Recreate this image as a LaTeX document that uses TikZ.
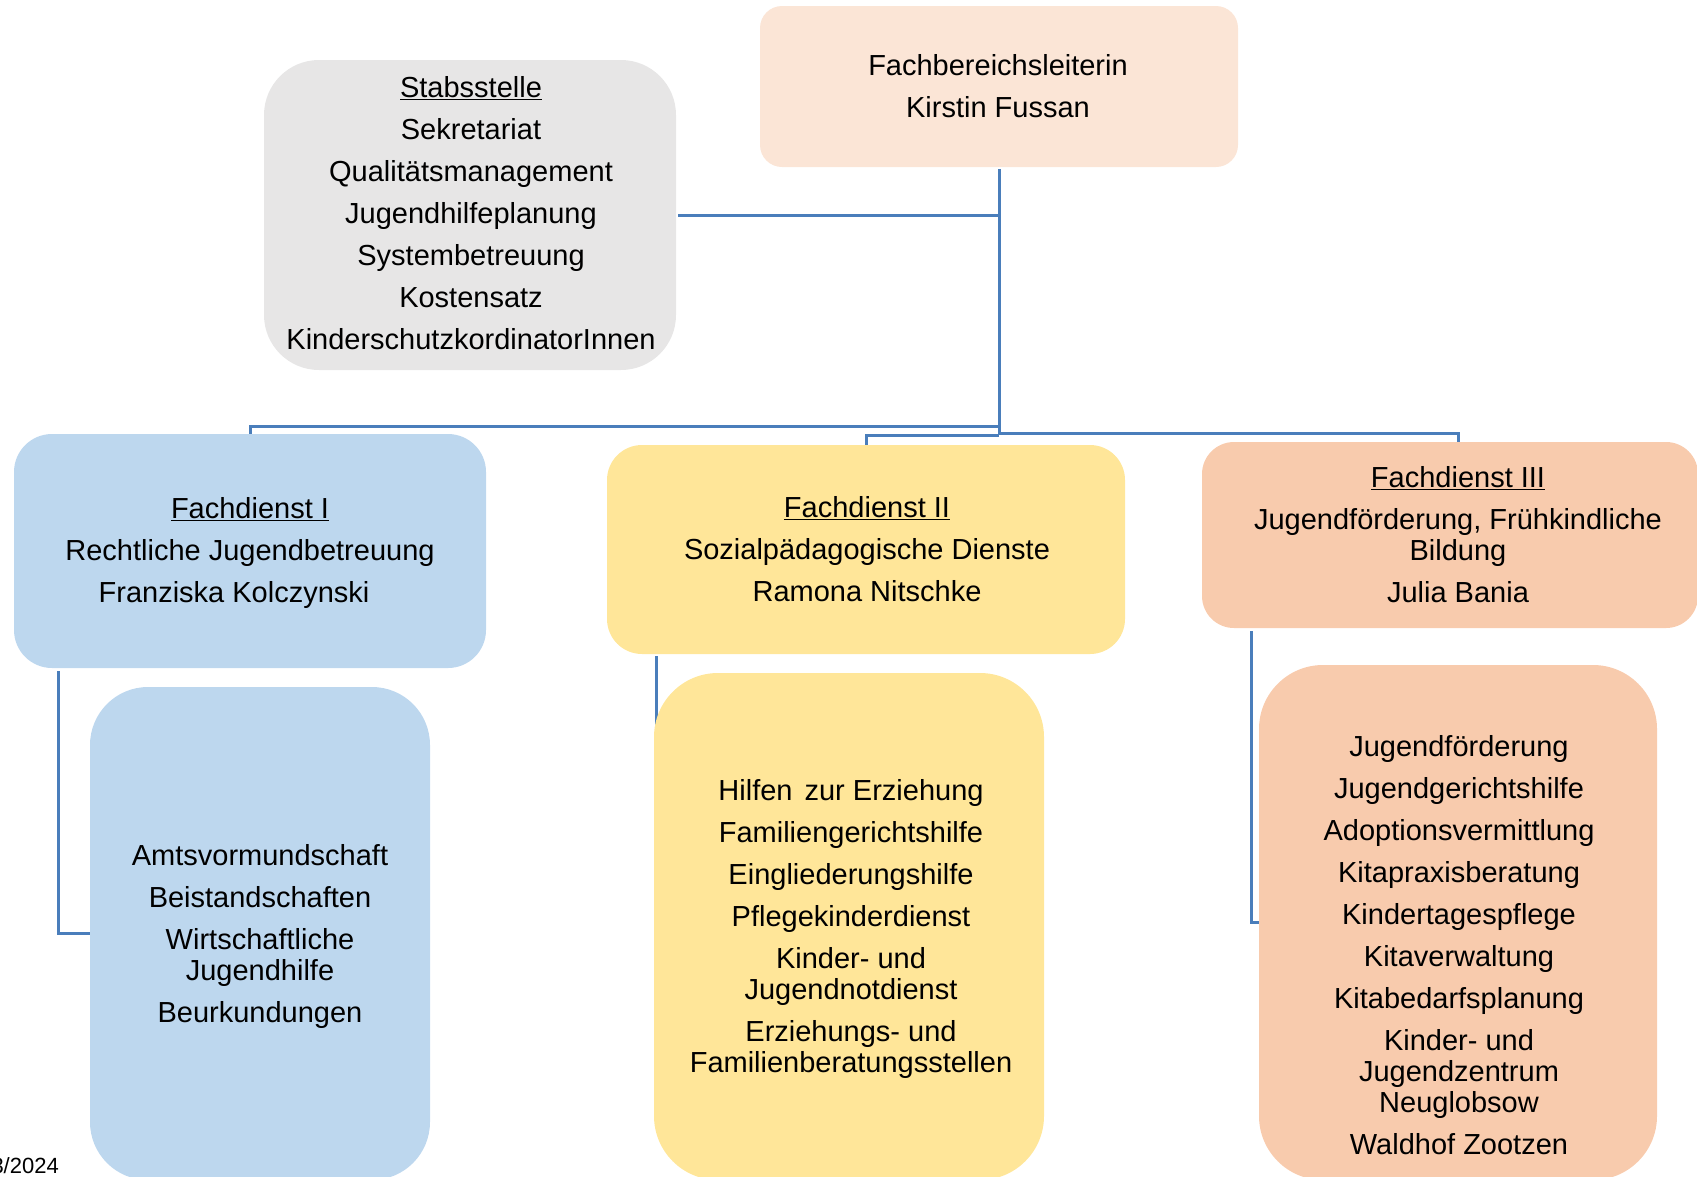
\documentclass[tikz,border=0pt]{standalone}
\usepackage{fontspec}
\setmainfont{Liberation Sans}
\definecolor{topfill}{HTML}{FBE5D6}
\definecolor{stabfill}{HTML}{E7E6E6}
\definecolor{blfill}{HTML}{BDD7EE}
\definecolor{yefill}{HTML}{FFE699}
\definecolor{orfill}{HTML}{F8CBAD}
\definecolor{lineblue}{HTML}{4A7EBB}
\tikzset{
  box/.style={rectangle, inner sep=0pt, draw=none},
  conn/.style={draw=lineblue, line width=3pt},
  txt/.style={align=center, inner sep=0pt, font=\fontsize{29}{31}\selectfont},
}
\begin{document}
\begin{tikzpicture}[x=1pt,y=-1pt]
\useasboundingbox (0,0) rectangle (1697,1176);
% boxes (shapes)
\path (999,86.5) node[box, fill=topfill, rounded corners=22pt, minimum width=478pt, minimum height=161pt] (top) {};
\path (470,215) node[box, fill=stabfill, rounded corners=55pt, minimum width=412pt, minimum height=310pt] (stab) {};
\path (250,551) node[box, fill=blfill, rounded corners=38pt, minimum width=472pt, minimum height=234pt] (fd1) {};
\path (866,549.5) node[box, fill=yefill, rounded corners=35pt, minimum width=518pt, minimum height=209pt] (fd2) {};
\path (1450,535) node[box, fill=orfill, rounded corners=32pt, minimum width=496pt, minimum height=186pt] (fd3) {};
% connectors
\coordinate (jn) at (999,435);
\coordinate (jl) at (999,426);
\coordinate (jm) at (999,435);
\coordinate (jr) at (999,433);
\draw[conn] ([yshift=-2pt]top.south) -- (jn);
\draw[conn] ([xshift=2pt]stab.east) -- (stab.east -| top.south);
\draw[conn] (jl) -| (fd1.north);
\draw[conn] (jm) -| (fd2.north);
\draw[conn] (jr) -| ([xshift=8pt]fd3.north);
\draw[conn] ([xshift=45pt,yshift=-3pt]fd1.south west) |- (260,933.5);
\draw[conn] ([xshift=50pt,yshift=-2pt]fd2.south west) |- (849,926.5);
\draw[conn] ([xshift=50pt,yshift=-3pt]fd3.south west) |- (1458,922.5);
% sub boxes
\path (260,933.5) node[box, fill=blfill, rounded corners=58pt, minimum width=340pt, minimum height=493pt] (sub1) {};
\path (849,926.5) node[box, fill=yefill, rounded corners=64pt, minimum width=390pt, minimum height=507pt] (sub2) {};
\path (1458,922.5) node[box, fill=orfill, rounded corners=64pt, minimum width=398pt, minimum height=515pt] (sub3) {};
% texts
\node[txt] (toptxt) at (998,86) {Fachbereichsleiterin\\[11pt]Kirstin Fussan};
\node[txt] (stabtxt) at (471,213) {\underline{Stabsstelle}\\[11pt]Sekretariat\\[11pt]Qualitätsmanagement\\[11pt]Jugendhilfeplanung\\[11pt]Systembetreuung\\[11pt]Kostensatz\\[11pt]KinderschutzkordinatorInnen};
\node[txt] (fd1txt) at (250,553) {\underline{Fachdienst I}\\[11pt]Rechtliche Jugendbetreuung\\[11pt]\hbox{Franziska Kolczynski\kern32pt}};
\node[txt] (fd2txt) at (867,549) {\underline{Fachdienst II}\\[11pt]Sozialpädagogische Dienste\\[11pt]Ramona Nitschke};
\node[txt] (fd3txt) at (1458,535) {\underline{Fachdienst III}\\[11pt]Jugendförderung, Frühkindliche\\Bildung\\[11pt]Julia Bania};
\node[txt] (sub1txt) at (260,936) {Amtsvormundschaft\\[11pt]Beistandschaften\\[11pt]Wirtschaftliche\\Jugendhilfe\\[11pt]Beurkundungen};
\node[txt] (sub2txt) at (851,929) {Hilfen\hspace{4pt} zur Erziehung\\[11pt]Familiengerichtshilfe\\[11pt]Eingliederungshilfe\\[11pt]Pflegekinderdienst\\[11pt]Kinder- und\\Jugendnotdienst\\[11pt]Erziehungs- und\\Familienberatungsstellen};
\node[txt] (sub3txt) at (1459,945) {Jugendförderung\\[11pt]Jugendgerichtshilfe\\[11pt]Adoptionsvermittlung\\[11pt]Kitapraxisberatung\\[11pt]Kindertagespflege\\[11pt]Kitaverwaltung\\[11pt]Kitabedarfsplanung\\[11pt]Kinder- und\\Jugendzentrum\\Neuglobsow\\[11pt]Waldhof Zootzen};
\node[anchor=base east, inner sep=0pt, font=\fontsize{22}{22}\selectfont] (date) at (59,1173) {3/2024};
\end{tikzpicture}
\end{document}
